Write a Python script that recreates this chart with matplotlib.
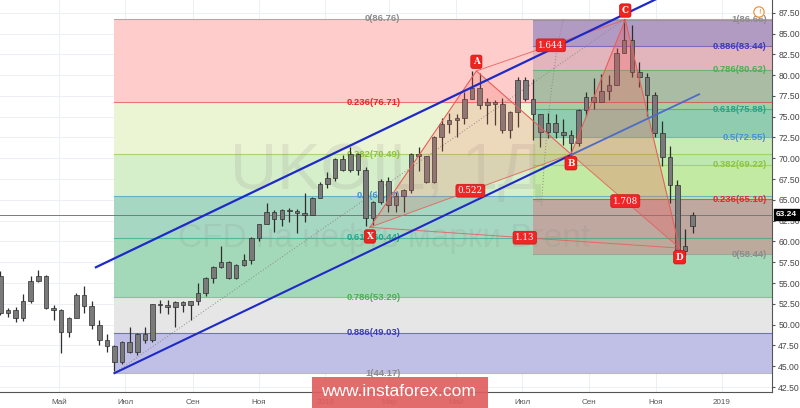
import matplotlib
matplotlib.use("Agg")
import matplotlib.pyplot as plt
import matplotlib.dates as mdates
import matplotlib.transforms as mtransforms
from matplotlib.patches import Rectangle, Polygon
import numpy as np
import pandas as pd

plt.rcParams['font.family'] = ['Liberation Sans', 'DejaVu Sans']

# ---------------- data (weekly OHLC) ----------------
week_start = pd.date_range("2017-03-06", periods=92, freq="7D")
opens = [55.9, 51.4, 51.8, 50.8, 52.8, 55.2, 55.9, 52.0, 51.7, 49.1,
         50.8, 53.6, 52.2, 49.9, 48.2, 47.4, 45.5, 47.9, 46.7, 48.9,
         48.1, 52.5, 52.4, 52.1, 52.7, 52.4, 52.8, 53.8, 55.6, 56.9,
         57.5, 55.6, 57.2, 57.8, 60.4, 62.1, 63.5, 62.7, 63.8, 63.7,
         63.4, 63.2, 65.2, 66.9, 67.6, 69.9, 68.6, 70.5, 68.6, 62.8,
         64.8, 67.3, 64.4, 65.5, 66.2, 70.5, 70.3, 67.1, 72.6, 74.1,
         74.6, 74.9, 77.1, 78.5, 76.4, 76.8, 76.5, 73.4, 75.6, 79.4,
         77.1, 75.3, 73.1, 74.3, 73.2, 72.8, 71.8, 75.8, 77.4, 76.8,
         78.1, 78.8, 82.7, 84.2, 80.4, 79.8, 77.6, 73.0, 70.2, 66.8,
         58.8, 61.8]
highs = [56.5, 52.0, 52.1, 53.7, 55.9, 56.6, 56.0, 52.4, 51.9, 50.9,
         53.8, 54.7, 52.8, 50.5, 48.9, 47.5, 48.0, 49.7, 49.0, 49.7,
         52.5, 53.0, 53.0, 52.8, 52.8, 52.9, 55.0, 55.7, 57.0, 59.5,
         57.6, 57.3, 58.5, 60.5, 62.1, 64.6, 63.8, 63.9, 64.0, 63.9,
         65.8, 65.3, 67.1, 68.3, 70.0, 70.4, 71.3, 70.6, 68.9, 64.9,
         67.5, 67.8, 66.0, 66.3, 70.6, 71.3, 70.3, 72.7, 74.8, 75.5,
         75.3, 78.0, 80.5, 80.3, 77.2, 77.0, 77.2, 75.7, 79.8, 79.8,
         79.5, 75.3, 75.4, 75.3, 74.7, 73.4, 75.9, 78.0, 79.7, 80.1,
         80.0, 83.3, 86.7, 86.0, 81.6, 80.2, 78.0, 74.5, 71.5, 67.4,
         61.5, 63.6]
lows = [51.2, 50.9, 50.3, 50.4, 52.6, 55.1, 51.9, 50.6, 46.6, 48.5,
        50.8, 51.4, 49.5, 47.5, 46.7, 44.4, 45.3, 46.6, 46.4, 47.8,
        47.9, 51.4, 51.3, 49.7, 51.5, 50.6, 52.3, 53.4, 55.0, 56.8,
        55.5, 55.5, 57.0, 57.3, 60.1, 62.1, 61.1, 61.9, 62.3, 61.0,
        62.3, 63.2, 65.2, 66.4, 67.3, 68.5, 68.4, 68.0, 61.8, 62.0,
        64.5, 63.6, 63.6, 63.6, 65.8, 68.5, 67.0, 67.0, 70.9, 73.0,
        72.6, 74.1, 77.1, 75.9, 74.1, 74.0, 73.0, 72.4, 73.8, 76.9,
        72.2, 71.3, 72.4, 72.4, 71.6, 70.3, 71.5, 75.1, 75.9, 76.8,
        77.0, 78.8, 82.6, 79.8, 78.6, 75.1, 72.5, 69.1, 64.6, 58.4,
        58.4, 61.0]
closes = [51.4, 51.8, 50.8, 52.8, 55.2, 55.9, 52.0, 51.7, 49.1, 50.8,
          53.6, 52.2, 49.9, 48.2, 47.4, 45.5, 47.9, 46.7, 48.9, 48.1,
          52.5, 52.4, 52.1, 52.7, 52.4, 52.8, 53.8, 55.6, 56.9, 57.5,
          55.6, 57.2, 57.8, 60.4, 62.1, 63.5, 62.7, 63.8, 63.7, 63.4,
          63.2, 65.2, 66.9, 67.6, 69.9, 68.6, 70.5, 68.6, 62.8, 64.8,
          67.3, 64.4, 65.5, 66.2, 70.5, 70.3, 67.1, 72.6, 74.1, 74.6,
          74.9, 77.1, 78.5, 76.4, 76.8, 76.5, 73.4, 75.6, 79.4, 77.1,
          75.3, 73.1, 74.3, 73.2, 72.8, 71.8, 75.8, 77.4, 76.8, 78.1,
          78.8, 82.7, 84.2, 80.4, 79.8, 77.6, 73.0, 70.2, 66.8, 58.8,
          59.5, 63.24]
last_price = 63.24

month_ticks = ["2017-05-01", "2017-07-01", "2017-09-01", "2017-11-01", "2018-01-01",
               "2018-03-01", "2018-05-01", "2018-07-01", "2018-09-01", "2018-11-01",
               "2019-01-01"]
month_labels = ["Май", "Июл", "Сен", "Ноя", "2018", "Мар", "Май", "Июл", "Сен", "Ноя", "2019"]

fib_ratios = ["0", "0.236", "0.382", "0.5", "0.618", "0.786", "0.886", "1"]
fib_colors = ["#8c8c8c", "#e8252b", "#8cc43c", "#3d94d6", "#22a38e", "#49b04f", "#3b3bbf", "#8c8c8c"]

left_fib_start = "2017-06-21"
left_fib_label_at = "2018-03-11"
left_fib_prices = [86.76, 76.71, 70.49, 65.47, 60.44, 53.29, 49.03, 44.17]
left_fib_fills = ["#ffcccc", "#ecf5d3", "#d4efca", "#a6d7c3", "#a3d9b8", "#e6e6e6", "#c0c0e7"]

right_fib_start = "2018-07-11"
right_fib_label_at = "2019-02-11"
right_fib_prices = [58.44, 65.10, 69.22, 72.55, 75.88, 80.62, 83.44, 86.66]
# colours seen where the right grid overlaps the left one (bottom to top)
right_fib_fills = ["#bcab9c", "#bea89f", "#b9e3a6", "#c2eaa3", "#bde8ae", "#c8ebb6",
                   "#90ccb0", "#a3cfa3", "#aabda4", "#e2b5bd", "#b29bc2"]

pattern_names = ["X", "A", "B", "C", "D"]
pattern_dates = ["2018-02-11", "2018-05-20", "2018-08-15", "2018-10-04", "2018-11-23"]
pattern_prices = [61.7, 80.5, 70.5, 86.66, 59.2]
pattern_label_side = [-1, 1, -1, 1, -1]
ratio_texts = ["0.522", "1.644", "1.708", "1.13"]
ratio_pairs = [(0, 2), (1, 3), (2, 4), (0, 4)]

upper_channel_dates = ["2017-06-03", "2019-02-16"]
upper_channel_prices = [56.84, 95.8]
lower_channel_dates = ["2017-06-21", "2018-08-15", "2018-12-11"]
lower_channel_prices = [44.17, 70.4, 77.7]

fib_trend_dates = ["2017-06-21", "2018-10-04"]
fib_trend_prices = [44.17, 86.76]
arc_dates = ["2018-08-08", "2018-08-02", "2018-07-28", "2018-07-24", "2018-07-21", "2018-07-19"]
arc_prices = [86.74, 83.02, 78.21, 73.40, 68.59, 64.38]


def d(s):
    return mdates.date2num(pd.Timestamp(s))


# ---------------- figure ----------------
fig = plt.figure(figsize=(8, 4.08), dpi=100)
ax = fig.add_axes([0, 16 / 408, 772 / 800, 392 / 408])
x_left = d("2017-05-01") - 54.3
x_right = d("2017-05-01") + 656.0
ax.set_xlim(x_left, x_right)
ax.set_ylim(41.90, 89.03)

ax.set_axisbelow(True)
ax.grid(True, color="#eceff4", lw=0.7)

# fib grids
lx0 = d(left_fib_start)
for i, col in enumerate(left_fib_fills):
    lo, hi = sorted([left_fib_prices[i], left_fib_prices[i + 1]])
    ax.fill_between([lx0, x_right], lo, hi, color=col, lw=0, zorder=1)

rx0 = d(right_fib_start)
edges = sorted(set(right_fib_prices) | {p for p in left_fib_prices
                                        if right_fib_prices[0] < p < right_fib_prices[-1]})
for i, col in enumerate(right_fib_fills):
    ax.fill_between([rx0, x_right], edges[i], edges[i + 1], color=col, lw=0, zorder=1.1)

for r, p, c in zip(fib_ratios, left_fib_prices, fib_colors):
    ax.plot([lx0, x_right], [p, p], color=c, lw=0.8, alpha=0.6, zorder=1.5)
    ax.text(d(left_fib_label_at), p, f"{r}({p:.2f})", ha="right", va="center",
            color=c, fontsize=6.8, fontweight="bold", zorder=2.5)
for r, p, c in zip(fib_ratios, right_fib_prices, fib_colors):
    ax.plot([rx0, x_right], [p, p], color=c, lw=0.8, alpha=0.6, zorder=1.5)
    ax.text(d(right_fib_label_at), p, f"{r}({p:.2f})", ha="right", va="center",
            color=c, fontsize=6.8, fontweight="bold", zorder=2.5)

# watermark
ax.text(230 / 800, 1 - 172 / 408, "UKOIL, 1Д", transform=fig.transFigure, fontsize=47,
        color="#8a8a8a", alpha=0.16, ha="left", va="center", zorder=1.6)
ax.text(178 / 800, 1 - 239 / 408, "CFD на нефть марки Brent", transform=fig.transFigure,
        fontsize=24, color="#8a8a8a", alpha=0.16, ha="left", va="center", zorder=1.6)

# last price line
ax.axhline(last_price, color="#7a7a7a", lw=0.7, zorder=2.4)

# dotted guide lines
ax.plot([d(s) for s in fib_trend_dates], fib_trend_prices, color="#8a8a8a", lw=0.7,
        ls=(0, (1, 2)), zorder=2.6)
ax.plot([d(s) for s in arc_dates], arc_prices, color="#8a8a8a", lw=0.7,
        ls=(0, (1, 2)), zorder=2.6)

# candles
centers = mdates.date2num(week_start + pd.Timedelta(days=2))
for c, o, h, l, cl in zip(centers, opens, highs, lows, closes):
    ax.vlines(c, l, h, color="#2e2e2e", lw=0.9, zorder=3)
    ax.add_patch(Rectangle((c - 2.1, min(o, cl)), 4.2, max(abs(cl - o), 0.12),
                           fc="#7a7a7a", ec="#2e2e2e", lw=0.5, zorder=3.1))

# harmonic pattern
px = [d(s) for s in pattern_dates]
py = pattern_prices
ax.add_patch(Polygon([(px[0], py[0]), (px[1], py[1]), (px[2], py[2])], closed=True,
                     fc=(0.94, 0.40, 0.36, 0.2), ec="none", zorder=3.4))
ax.add_patch(Polygon([(px[2], py[2]), (px[3], py[3]), (px[4], py[4])], closed=True,
                     fc=(0.98, 0.33, 0.33, 0.28), ec="none", zorder=3.4))
ax.plot(px, py, color="#e5605a", lw=0.8, zorder=3.6)
for (a, b), t in zip(ratio_pairs, ratio_texts):
    ax.plot([px[a], px[b]], [py[a], py[b]], color="#e5605a", lw=0.7, alpha=0.85, zorder=3.6)
    ax.text((px[a] + px[b]) / 2, (py[a] + py[b]) / 2, t, ha="center", va="center",
            color="white", fontsize=6.3, family="DejaVu Serif", zorder=6,
            bbox=dict(boxstyle="round,pad=0.22,rounding_size=0.25", fc="#ee2626",
                      ec="#c81818", lw=0.5))

# channel
ax.plot([d(s) for s in upper_channel_dates], upper_channel_prices, color="#1e2ac8",
        lw=1.6, zorder=4, solid_capstyle="butt")
lcx = [d(s) for s in lower_channel_dates]
ax.plot(lcx[:2], lower_channel_prices[:2], color="#1e2ac8", lw=1.5, zorder=4)
ax.plot(lcx[1:], lower_channel_prices[1:], color="#4d6cc4", lw=1.3, zorder=4)

for n, x, y, s in zip(pattern_names, px, py, pattern_label_side):
    ax.annotate(n, (x, y), xytext=(0, 6.6 * s), textcoords="offset points", ha="center",
                va="center", color="white", fontsize=6.3, family="DejaVu Serif",
                fontweight="bold", zorder=6,
                bbox=dict(boxstyle="round,pad=0.25,rounding_size=0.25", fc="#f2231f",
                          ec="#c81010", lw=0.5))

# axes styling
ax.yaxis.tick_right()
ax.set_yticks(np.arange(42.5, 88.0, 2.5))
ax.yaxis.set_major_formatter(matplotlib.ticker.FormatStrFormatter("%.2f"))
ax.set_xticks([d(s) for s in month_ticks])
ax.set_xticklabels(month_labels)
for side in ["top", "left"]:
    ax.spines[side].set_visible(False)
for side in ["right", "bottom"]:
    ax.spines[side].set_color("#555555")
    ax.spines[side].set_linewidth(0.8)
ax.tick_params(axis="y", length=2.5, color="#555555", labelsize=6.2, labelcolor="#444444", pad=2)
ax.tick_params(axis="x", length=0, labelsize=5.8, labelcolor="#555555", pad=5)

# last price tag
trans = mtransforms.blended_transform_factory(ax.transAxes, ax.transData)
ax.text(786.5 / 772, last_price, f"{last_price:.2f}", transform=trans, ha="center",
        va="center", color="white", fontsize=6, fontweight="bold", zorder=10, clip_on=False,
        bbox=dict(boxstyle="square,pad=0.2", fc="black", ec="black"))

# alert icon
ax.text(759 / 772, 1 - 12 / 392, "!", transform=ax.transAxes, ha="center", va="center",
        color="#f0892e", fontsize=6, zorder=10,
        bbox=dict(boxstyle="circle,pad=0.2", fc="white", ec="#f0892e", lw=0.8))

# site banner
fig.patches.append(Rectangle((312 / 800, 0), 176 / 800, 31 / 408, transform=fig.transFigure,
                             fc="#e05e5e", alpha=0.92, ec="none", zorder=5))
fig.text(398.5 / 800, 1 - 392 / 408, "www.instaforex.com", ha="center", va="center",
         color="white", fontsize=12.5, zorder=6)

fig.savefig("out.png", dpi=100)
